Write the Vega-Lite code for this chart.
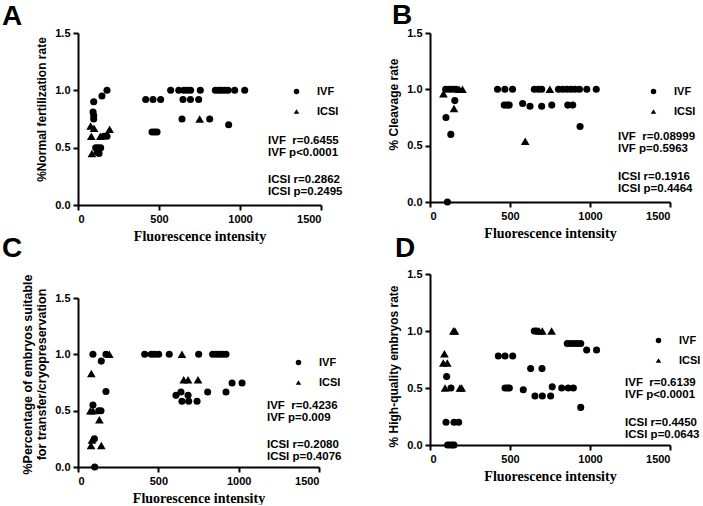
{
  "$schema": "https://vega.github.io/schema/vega-lite/v6.json",
  "background": "white",
  "padding": {"left": 2, "top": 1, "right": 0, "bottom": 0},
  "config": {
    "view": {"stroke": null},
    "font": "Liberation Sans",
    "axis": {
      "grid": false,
      "domainColor": "black",
      "domainWidth": 2,
      "tickColor": "black",
      "tickWidth": 2,
      "tickSize": 5,
      "labelFont": "Liberation Sans",
      "labelFontWeight": "bold",
      "labelFontSize": 11,
      "labelColor": "black",
      "labelPadding": 3,
      "titleColor": "black"
    },
    "axisX": {"titleFont": "Liberation Serif", "titleFontSize": 14, "titleFontWeight": "bold", "titlePadding": 5},
    "axisY": {"titleFont": "Liberation Sans", "titleFontSize": 12, "titleFontWeight": "bold", "titlePadding": 6},
    "legend": {
      "orient": "none",
      "title": null,
      "labelFont": "Liberation Sans",
      "labelFontWeight": "bold",
      "labelFontSize": 11,
      "labelColor": "black",
      "symbolSize": 30,
      "symbolFillColor": "black",
      "symbolStrokeColor": "black",
      "symbolStrokeWidth": 0,
      "labelOffset": 15,
      "rowPadding": 8,
      "padding": 0
    },
    "text": {"font": "Liberation Sans", "fontWeight": "bold", "color": "black"}
  },
  "datasets": {
    "A": [
      {"fi": 97, "rate": 0.9, "group": "IVF"}, {"fi": 93, "rate": 0.81, "group": "IVF"}, {"fi": 97, "rate": 0.78, "group": "IVF"}, {"fi": 97, "rate": 0.75, "group": "IVF"},
      {"fi": 148, "rate": 0.95, "group": "IVF"}, {"fi": 179, "rate": 1.0, "group": "IVF"}, {"fi": 160, "rate": 0.6, "group": "IVF"}, {"fi": 179, "rate": 0.6, "group": "IVF"},
      {"fi": 109, "rate": 0.5, "group": "IVF"}, {"fi": 124, "rate": 0.5, "group": "IVF"}, {"fi": 140, "rate": 0.5, "group": "IVF"}, {"fi": 119, "rate": 0.46, "group": "IVF"}, {"fi": 130, "rate": 0.45, "group": "IVF"},
      {"fi": 572, "rate": 1.0, "group": "IVF"}, {"fi": 622, "rate": 1.0, "group": "IVF"}, {"fi": 653, "rate": 1.0, "group": "IVF"}, {"fi": 674, "rate": 1.0, "group": "IVF"}, {"fi": 695, "rate": 1.0, "group": "IVF"},
      {"fi": 755, "rate": 1.0, "group": "IVF"}, {"fi": 848, "rate": 1.0, "group": "IVF"}, {"fi": 868, "rate": 1.0, "group": "IVF"}, {"fi": 885, "rate": 1.0, "group": "IVF"}, {"fi": 905, "rate": 1.0, "group": "IVF"},
      {"fi": 926, "rate": 1.0, "group": "IVF"}, {"fi": 967, "rate": 1.0, "group": "IVF"}, {"fi": 1029, "rate": 1.0, "group": "IVF"},
      {"fi": 418, "rate": 0.92, "group": "IVF"}, {"fi": 463, "rate": 0.92, "group": "IVF"}, {"fi": 510, "rate": 0.92, "group": "IVF"}, {"fi": 648, "rate": 0.92, "group": "IVF"}, {"fi": 694, "rate": 0.92, "group": "IVF"}, {"fi": 745, "rate": 0.92, "group": "IVF"},
      {"fi": 642, "rate": 0.75, "group": "IVF"}, {"fi": 813, "rate": 0.75, "group": "IVF"}, {"fi": 930, "rate": 0.7, "group": "IVF"},
      {"fi": 457, "rate": 0.636, "group": "IVF"}, {"fi": 473, "rate": 0.636, "group": "IVF"}, {"fi": 488, "rate": 0.636, "group": "IVF"},
      {"fi": 78, "rate": 0.69, "group": "ICSI"}, {"fi": 99, "rate": 0.67, "group": "ICSI"}, {"fi": 82, "rate": 0.6, "group": "ICSI"}, {"fi": 138, "rate": 0.6, "group": "ICSI"},
      {"fi": 195, "rate": 0.66, "group": "ICSI"}, {"fi": 86, "rate": 0.45, "group": "ICSI"}, {"fi": 751, "rate": 0.75, "group": "ICSI"}
    ],
    "B": [
      {"fi": 98, "rate": 1.0, "group": "IVF"}, {"fi": 119, "rate": 1.0, "group": "IVF"}, {"fi": 140, "rate": 1.0, "group": "IVF"}, {"fi": 161, "rate": 1.0, "group": "IVF"},
      {"fi": 155, "rate": 0.9, "group": "IVF"}, {"fi": 100, "rate": 0.75, "group": "IVF"}, {"fi": 130, "rate": 0.6, "group": "IVF"}, {"fi": 109, "rate": 0.0, "group": "IVF"},
      {"fi": 422, "rate": 1.0, "group": "IVF"}, {"fi": 468, "rate": 1.0, "group": "IVF"}, {"fi": 516, "rate": 1.0, "group": "IVF"}, {"fi": 652, "rate": 1.0, "group": "IVF"}, {"fi": 677, "rate": 1.0, "group": "IVF"},
      {"fi": 698, "rate": 1.0, "group": "IVF"}, {"fi": 803, "rate": 1.0, "group": "IVF"}, {"fi": 829, "rate": 1.0, "group": "IVF"}, {"fi": 856, "rate": 1.0, "group": "IVF"}, {"fi": 881, "rate": 1.0, "group": "IVF"},
      {"fi": 906, "rate": 1.0, "group": "IVF"}, {"fi": 934, "rate": 1.0, "group": "IVF"}, {"fi": 980, "rate": 1.0, "group": "IVF"}, {"fi": 1039, "rate": 1.0, "group": "IVF"},
      {"fi": 464, "rate": 0.86, "group": "IVF"}, {"fi": 481, "rate": 0.86, "group": "IVF"}, {"fi": 495, "rate": 0.86, "group": "IVF"}, {"fi": 761, "rate": 0.86, "group": "IVF"}, {"fi": 861, "rate": 0.86, "group": "IVF"}, {"fi": 892, "rate": 0.86, "group": "IVF"},
      {"fi": 579, "rate": 0.875, "group": "IVF"}, {"fi": 625, "rate": 0.85, "group": "IVF"}, {"fi": 698, "rate": 0.85, "group": "IVF"}, {"fi": 938, "rate": 0.67, "group": "IVF"},
      {"fi": 84, "rate": 0.96, "group": "ICSI"}, {"fi": 182, "rate": 1.0, "group": "ICSI"}, {"fi": 203, "rate": 1.0, "group": "ICSI"}, {"fi": 150, "rate": 0.83, "group": "ICSI"},
      {"fi": 749, "rate": 1.0, "group": "ICSI"}, {"fi": 595, "rate": 0.54, "group": "ICSI"}
    ],
    "C": [
      {"fi": 93, "rate": 1.0, "group": "IVF"}, {"fi": 145, "rate": 0.94, "group": "IVF"}, {"fi": 174, "rate": 1.0, "group": "IVF"}, {"fi": 93, "rate": 0.55, "group": "IVF"},
      {"fi": 129, "rate": 0.5, "group": "IVF"}, {"fi": 143, "rate": 0.5, "group": "IVF"}, {"fi": 174, "rate": 0.67, "group": "IVF"}, {"fi": 102, "rate": 0.25, "group": "IVF"}, {"fi": 104, "rate": 0.0, "group": "IVF"},
      {"fi": 415, "rate": 1.0, "group": "IVF"}, {"fi": 456, "rate": 1.0, "group": "IVF"}, {"fi": 477, "rate": 1.0, "group": "IVF"}, {"fi": 502, "rate": 1.0, "group": "IVF"}, {"fi": 568, "rate": 1.0, "group": "IVF"},
      {"fi": 751, "rate": 1.0, "group": "IVF"}, {"fi": 838, "rate": 1.0, "group": "IVF"}, {"fi": 861, "rate": 1.0, "group": "IVF"}, {"fi": 882, "rate": 1.0, "group": "IVF"}, {"fi": 900, "rate": 1.0, "group": "IVF"}, {"fi": 921, "rate": 1.0, "group": "IVF"},
      {"fi": 610, "rate": 0.636, "group": "IVF"}, {"fi": 641, "rate": 0.666, "group": "IVF"}, {"fi": 647, "rate": 0.583, "group": "IVF"}, {"fi": 685, "rate": 0.636, "group": "IVF"}, {"fi": 689, "rate": 0.583, "group": "IVF"},
      {"fi": 741, "rate": 0.583, "group": "IVF"}, {"fi": 807, "rate": 0.666, "group": "IVF"}, {"fi": 921, "rate": 0.666, "group": "IVF"}, {"fi": 959, "rate": 0.745, "group": "IVF"}, {"fi": 1021, "rate": 0.745, "group": "IVF"},
      {"fi": 195, "rate": 1.0, "group": "ICSI"}, {"fi": 83, "rate": 0.83, "group": "ICSI"}, {"fi": 77, "rate": 0.5, "group": "ICSI"}, {"fi": 93, "rate": 0.5, "group": "ICSI"}, {"fi": 133, "rate": 0.42, "group": "ICSI"},
      {"fi": 87, "rate": 0.24, "group": "ICSI"}, {"fi": 81, "rate": 0.19, "group": "ICSI"}, {"fi": 145, "rate": 0.19, "group": "ICSI"},
      {"fi": 647, "rate": 1.0, "group": "ICSI"}, {"fi": 658, "rate": 0.775, "group": "ICSI"}, {"fi": 685, "rate": 0.775, "group": "ICSI"}, {"fi": 747, "rate": 0.775, "group": "ICSI"}
    ],
    "D": [
      {"fi": 104, "rate": 0.6, "group": "IVF"}, {"fi": 100, "rate": 0.2, "group": "IVF"}, {"fi": 150, "rate": 0.2, "group": "IVF"}, {"fi": 179, "rate": 0.2, "group": "IVF"}, {"fi": 131, "rate": 0.5, "group": "IVF"},
      {"fi": 110, "rate": 0.0, "group": "IVF"}, {"fi": 125, "rate": 0.0, "group": "IVF"}, {"fi": 140, "rate": 0.0, "group": "IVF"}, {"fi": 150, "rate": 0.0, "group": "IVF"},
      {"fi": 427, "rate": 0.78, "group": "IVF"}, {"fi": 469, "rate": 0.78, "group": "IVF"}, {"fi": 517, "rate": 0.78, "group": "IVF"}, {"fi": 469, "rate": 0.5, "group": "IVF"}, {"fi": 485, "rate": 0.5, "group": "IVF"},
      {"fi": 496, "rate": 0.5, "group": "IVF"}, {"fi": 583, "rate": 0.485, "group": "IVF"}, {"fi": 629, "rate": 0.67, "group": "IVF"}, {"fi": 700, "rate": 0.67, "group": "IVF"}, {"fi": 652, "rate": 1.0, "group": "IVF"},
      {"fi": 667, "rate": 1.0, "group": "IVF"}, {"fi": 656, "rate": 0.43, "group": "IVF"}, {"fi": 702, "rate": 0.43, "group": "IVF"}, {"fi": 754, "rate": 0.43, "group": "IVF"}, {"fi": 764, "rate": 0.51, "group": "IVF"},
      {"fi": 823, "rate": 0.5, "group": "IVF"}, {"fi": 864, "rate": 0.5, "group": "IVF"}, {"fi": 896, "rate": 0.5, "group": "IVF"}, {"fi": 858, "rate": 0.89, "group": "IVF"}, {"fi": 879, "rate": 0.89, "group": "IVF"},
      {"fi": 900, "rate": 0.89, "group": "IVF"}, {"fi": 921, "rate": 0.89, "group": "IVF"}, {"fi": 942, "rate": 0.89, "group": "IVF"}, {"fi": 979, "rate": 0.833, "group": "IVF"}, {"fi": 1041, "rate": 0.833, "group": "IVF"}, {"fi": 942, "rate": 0.33, "group": "IVF"},
      {"fi": 90, "rate": 0.8, "group": "ICSI"}, {"fi": 83, "rate": 0.72, "group": "ICSI"}, {"fi": 108, "rate": 0.72, "group": "ICSI"}, {"fi": 94, "rate": 0.5, "group": "ICSI"}, {"fi": 187, "rate": 0.5, "group": "ICSI"},
      {"fi": 198, "rate": 0.5, "group": "ICSI"}, {"fi": 146, "rate": 1.0, "group": "ICSI"}, {"fi": 156, "rate": 1.0, "group": "ICSI"},
      {"fi": 683, "rate": 1.0, "group": "ICSI"}, {"fi": 702, "rate": 1.0, "group": "ICSI"}, {"fi": 760, "rate": 1.0, "group": "ICSI"}
    ]
  },
  "resolve": {"legend": {"shape": "independent"}, "scale": {"shape": "independent"}},
  "spacing": 44,
  "hconcat": [
    {
      "vconcat": [
        {
          "width": 243, "height": 172,
          "data": {"name": "A"},
          "layer": [
            {
              "mark": {"type": "point", "filled": true, "color": "black", "opacity": 1},
              "encoding": {
                "x": {"field": "fi", "type": "quantitative", "scale": {"domain": [0, 1500], "nice": false}, "axis": {"values": [0, 500, 1000, 1500], "format": "d", "title": "Fluorescence intensity"}},
                "y": {"field": "rate", "type": "quantitative", "scale": {"domain": [0, 1.5], "nice": false}, "axis": {"values": [0, 0.5, 1, 1.5], "format": ".1f", "title": "%Normal fertilization rate", "titleY": 76}},
                "shape": {"field": "group", "type": "nominal", "scale": {"domain": ["IVF", "ICSI"], "range": ["circle", "triangle-up"]}, "legend": {"legendX": 213, "legendY": 53}},
                "size": {"field": "group", "type": "nominal", "scale": {"domain": ["IVF", "ICSI"], "range": [50, 75]}, "legend": null}
              }
            },
            {
              "data": {"values": [{}]},
              "mark": {"type": "text", "text": "A", "align": "left", "baseline": "alphabetic", "fontSize": 28},
              "encoding": {"x": {"datum": -469}, "y": {"datum": 1.569}}
            },
            {
              "data": {"values": [{}]},
              "mark": {"type": "text", "text": ["IVF\u00a0 r=0.6455", "IVF p<0.0001"], "align": "left", "baseline": "middle", "lineHeight": 12, "fontSize": 11.5},
              "encoding": {"x": {"datum": 1173}, "y": {"datum": 0.558}}
            },
            {
              "data": {"values": [{}]},
              "mark": {"type": "text", "text": ["ICSI r=0.2862", "ICSI p=0.2495"], "align": "left", "baseline": "middle", "lineHeight": 12, "fontSize": 11.5},
              "encoding": {"x": {"datum": 1173}, "y": {"datum": 0.218}}
            }
          ]
        },
        {
          "width": 241, "height": 169,
          "data": {"name": "C"},
          "layer": [
            {
              "mark": {"type": "point", "filled": true, "color": "black", "opacity": 1},
              "encoding": {
                "x": {"field": "fi", "type": "quantitative", "scale": {"domain": [0, 1500], "nice": false}, "axis": {"values": [0, 500, 1000, 1500], "format": "d", "title": "Fluorescence intensity"}},
                "y": {"field": "rate", "type": "quantitative", "scale": {"domain": [0, 1.5], "nice": false}, "axis": {"values": [0, 0.5, 1, 1.5], "format": ".1f", "title": ["%Percentage of embryos suitable", "for transfer/cryopreservation"], "titleLineHeight": 14, "titleFontSize": 12.5, "titleY": 76}},
                "shape": {"field": "group", "type": "nominal", "scale": {"domain": ["IVF", "ICSI"], "range": ["circle", "triangle-up"]}, "legend": {"legendX": 215, "legendY": 59}},
                "size": {"field": "group", "type": "nominal", "scale": {"domain": ["IVF", "ICSI"], "range": [50, 75]}, "legend": null}
              }
            },
            {
              "data": {"values": [{}]},
              "mark": {"type": "text", "text": "C", "align": "left", "baseline": "alphabetic", "fontSize": 28},
              "encoding": {"x": {"datum": -473}, "y": {"datum": 1.868}}
            },
            {
              "data": {"values": [{}]},
              "mark": {"type": "text", "text": ["IVF\u00a0 r=0.4236", "IVF p=0.009"], "align": "left", "baseline": "middle", "lineHeight": 12, "fontSize": 11.5},
              "encoding": {"x": {"datum": 1176}, "y": {"datum": 0.541}}
            },
            {
              "data": {"values": [{}]},
              "mark": {"type": "text", "text": ["ICSI r=0.2080", "ICSI p=0.4076"], "align": "left", "baseline": "middle", "lineHeight": 12, "fontSize": 11.5},
              "encoding": {"x": {"datum": 1176}, "y": {"datum": 0.195}}
            }
          ]
        }
      ],
      "spacing": -9,
      "resolve": {"legend": {"shape": "independent"}, "scale": {"shape": "independent"}}
    },
    {
      "vconcat": [
        {
          "width": 240, "height": 169,
          "data": {"name": "B"},
          "layer": [
            {
              "mark": {"type": "point", "filled": true, "color": "black", "opacity": 1},
              "encoding": {
                "x": {"field": "fi", "type": "quantitative", "scale": {"domain": [0, 1500], "nice": false}, "axis": {"values": [0, 500, 1000, 1500], "format": "d", "title": "Fluorescence intensity"}},
                "y": {"field": "rate", "type": "quantitative", "scale": {"domain": [0, 1.5], "nice": false}, "axis": {"values": [0, 0.5, 1, 1.5], "format": ".1f", "title": "% Cleavage rate", "titleY": 71}},
                "shape": {"field": "group", "type": "nominal", "scale": {"domain": ["IVF", "ICSI"], "range": ["circle", "triangle-up"]}, "legend": {"legendX": 218, "legendY": 53}},
                "size": {"field": "group", "type": "nominal", "scale": {"domain": ["IVF", "ICSI"], "range": [50, 75]}, "legend": null}
              }
            },
            {
              "data": {"values": [{}]},
              "mark": {"type": "text", "text": "B", "align": "left", "baseline": "alphabetic", "fontSize": 28},
              "encoding": {"x": {"datum": -237}, "y": {"datum": 1.58}}
            },
            {
              "data": {"values": [{}]},
              "mark": {"type": "text", "text": ["IVF\u00a0 r=0.08999", "IVF p=0.5963"], "align": "left", "baseline": "middle", "lineHeight": 12, "fontSize": 11.5},
              "encoding": {"x": {"datum": 1175}, "y": {"datum": 0.577}}
            },
            {
              "data": {"values": [{}]},
              "mark": {"type": "text", "text": ["ICSI r=0.1916", "ICSI p=0.4464"], "align": "left", "baseline": "middle", "lineHeight": 12, "fontSize": 11.5},
              "encoding": {"x": {"datum": 1175}, "y": {"datum": 0.226}}
            }
          ]
        },
        {
          "width": 240, "height": 171,
          "data": {"name": "D"},
          "layer": [
            {
              "mark": {"type": "point", "filled": true, "color": "black", "opacity": 1},
              "encoding": {
                "x": {"field": "fi", "type": "quantitative", "scale": {"domain": [0, 1500], "nice": false}, "axis": {"values": [0, 500, 1000, 1500], "format": "d", "title": "Fluorescence intensity"}},
                "y": {"field": "rate", "type": "quantitative", "scale": {"domain": [0, 1.5], "nice": false}, "axis": {"values": [0, 0.5, 1, 1.5], "format": ".1f", "title": "% High-quality embryos rate", "titleY": 92}},
                "shape": {"field": "group", "type": "nominal", "scale": {"domain": ["IVF", "ICSI"], "range": ["circle", "triangle-up"]}, "legend": {"legendX": 223, "legendY": 61}},
                "size": {"field": "group", "type": "nominal", "scale": {"domain": ["IVF", "ICSI"], "range": [50, 75]}, "legend": null}
              }
            },
            {
              "data": {"values": [{}]},
              "mark": {"type": "text", "text": "D", "align": "left", "baseline": "alphabetic", "fontSize": 28},
              "encoding": {"x": {"datum": -219}, "y": {"datum": 1.649}}
            },
            {
              "data": {"values": [{}]},
              "mark": {"type": "text", "text": ["IVF\u00a0 r=0.6139", "IVF p<0.0001"], "align": "left", "baseline": "middle", "lineHeight": 12, "fontSize": 11.5},
              "encoding": {"x": {"datum": 1219}, "y": {"datum": 0.544}}
            },
            {
              "data": {"values": [{}]},
              "mark": {"type": "text", "text": ["ICSI r=0.4450", "ICSI p=0.0643"], "align": "left", "baseline": "middle", "lineHeight": 12, "fontSize": 11.5},
              "encoding": {"x": {"datum": 1219}, "y": {"datum": 0.193}}
            }
          ]
        }
      ],
      "spacing": -5,
      "resolve": {"legend": {"shape": "independent"}, "scale": {"shape": "independent"}}
    }
  ]
}
